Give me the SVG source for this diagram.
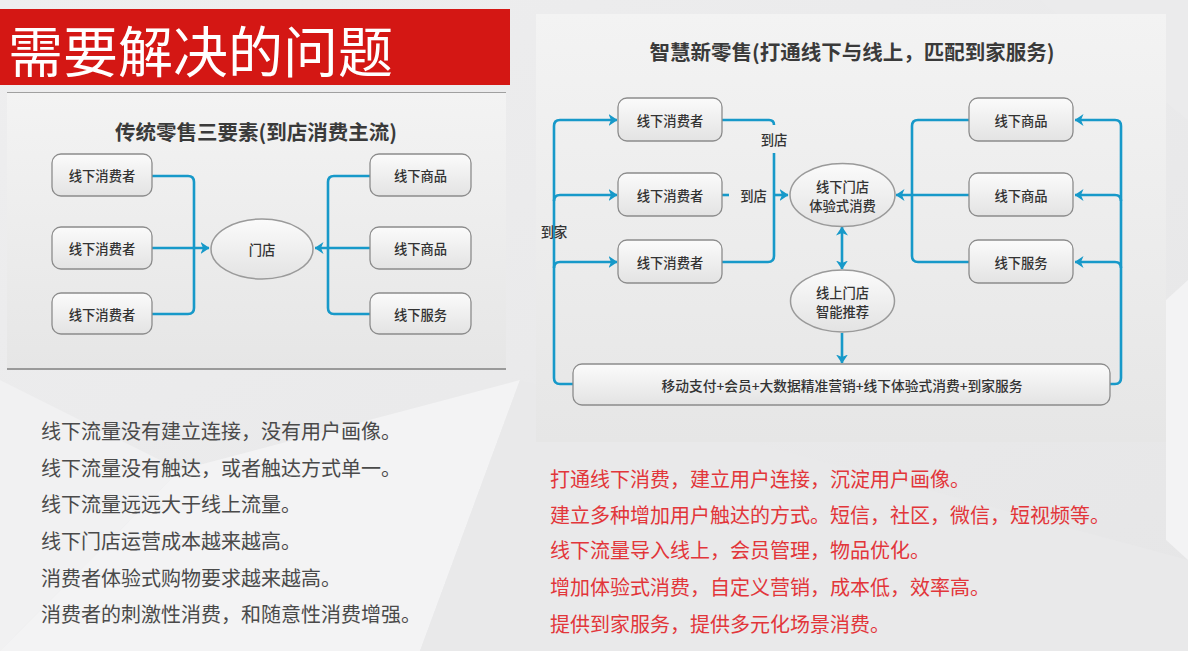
<svg xmlns="http://www.w3.org/2000/svg" width="1188" height="651" viewBox="0 0 1188 651">
<defs>
<linearGradient id="bg" x1="0" y1="0" x2="1" y2="1"><stop offset="0" stop-color="#eeeeef"/><stop offset="1" stop-color="#e6e6e7"/></linearGradient>
<linearGradient id="panel" x1="0" y1="0" x2="0" y2="1"><stop offset="0" stop-color="#f3f3f3"/><stop offset="1" stop-color="#e6e6e6"/></linearGradient>
<linearGradient id="node" x1="0" y1="0" x2="0" y2="1"><stop offset="0" stop-color="#fbfbfb"/><stop offset="1" stop-color="#e3e3e3"/></linearGradient>
<marker id="ah" viewBox="0 0 9 12" refX="8.5" refY="6" markerWidth="9" markerHeight="12" markerUnits="userSpaceOnUse" orient="auto-start-reverse"><path d="M0,0 L9,6 L0,12 L2.5,6 Z" fill="#1799c9"/></marker>
</defs>
<style>
.t{font-family:"Noto Sans CJK SC","Liberation Sans",sans-serif;}
.box{fill:url(#node);stroke:#8c8c8c;stroke-width:1.3;}
.ell{fill:url(#node);stroke:#9a9a9a;stroke-width:1.5;}
.lbl{font-family:"Noto Sans CJK SC","Liberation Sans",sans-serif;font-size:13.3px;fill:#333;text-anchor:middle;dominant-baseline:central;font-weight:500;}
.ln{fill:none;stroke:#1799c9;stroke-width:2.6;}
.ptitle{font-family:"Noto Sans CJK SC","Liberation Sans",sans-serif;font-size:20.5px;font-weight:bold;fill:#3a3a3a;text-anchor:middle;dominant-baseline:central;}
.gray{font-family:"Noto Sans CJK SC","Liberation Sans",sans-serif;font-size:20px;fill:#4a4a4a;dominant-baseline:central;}
.red{font-family:"Noto Sans CJK SC","Liberation Sans",sans-serif;font-size:20px;fill:#e2363a;dominant-baseline:central;}
</style>
<rect width="1188" height="651" fill="url(#bg)"/>
<polygon points="0,380 180,470 0,651" fill="#f1f1f2"/>
<polygon points="180,470 520,380 420,651 0,651" fill="#f3f3f4"/>
<polygon points="520,380 1188,560 1188,651 420,651" fill="#e9e9ea"/>
<polygon points="760,0 1040,0 1188,120 1188,0" fill="#ebebec"/>
<polygon points="1166,300 1188,280 1188,560 1166,540" fill="#f3f3f4"/>

<g id="banner">
<rect x="0" y="9" width="510" height="76" fill="#d41714"/>
<text class="t" x="8" y="47.5" font-size="55" fill="#ffffff" dominant-baseline="central">需要解决的问题</text>
</g>

<g id="left-panel">
<rect x="7" y="92" width="499" height="278" fill="url(#panel)"/>
<line x1="7" y1="92.5" x2="506" y2="92.5" stroke="#a0a0a0" stroke-width="1.2"/>
<line x1="7" y1="369" x2="506" y2="369" stroke="#808080" stroke-width="1.5"/>
<text class="ptitle" x="256" y="131">传统零售三要素(到店消费主流)</text>
</g>

<g id="left-connectors">
<path class="ln" d="M152,176 H188 Q194,176 194,182 V308 Q194,314 188,314 H152"/>
<path class="ln" d="M152,248 H209" marker-end="url(#ah)"/>
<path class="ln" d="M370,176 H334 Q328,176 328,182 V308 Q328,314 334,314 H370"/>
<path class="ln" d="M370,248 H315" marker-end="url(#ah)"/>
</g>

<g id="l-consumer1"><rect class="box" x="52" y="154" width="100" height="42" rx="9"/><text class="lbl" x="102" y="175">线下消费者</text></g>
<g id="l-consumer2"><rect class="box" x="52" y="227" width="100" height="42" rx="9"/><text class="lbl" x="102" y="248">线下消费者</text></g>
<g id="l-consumer3"><rect class="box" x="52" y="293" width="100" height="41" rx="9"/><text class="lbl" x="102" y="314">线下消费者</text></g>
<g id="l-store"><ellipse class="ell" cx="262" cy="249" rx="51" ry="30"/><text class="lbl" x="262" y="249">门店</text></g>
<g id="l-goods1"><rect class="box" x="370" y="154" width="101" height="42" rx="9"/><text class="lbl" x="420.5" y="175">线下商品</text></g>
<g id="l-goods2"><rect class="box" x="370" y="227" width="101" height="42" rx="9"/><text class="lbl" x="420.5" y="248">线下商品</text></g>
<g id="l-service"><rect class="box" x="370" y="293" width="101" height="41" rx="9"/><text class="lbl" x="420.5" y="314">线下服务</text></g>

<g id="right-panel">
<rect x="536" y="14" width="630" height="428" fill="url(#panel)"/>
<text class="ptitle" x="852" y="51">智慧新零售(打通线下与线上，匹配到家服务)</text>
</g>

<g id="right-connectors">
<path class="ln" d="M573,384 H560 Q554,384 554,378 V126 Q554,120 560,120 H617" marker-end="url(#ah)"/>
<path class="ln" d="M554,201 Q554,195 560,195 H617" marker-end="url(#ah)"/>
<path class="ln" d="M554,268 Q554,262 560,262 H617" marker-end="url(#ah)"/>
<path class="ln" d="M722,120 H769 Q774,120 774,125"/>
<path class="ln" d="M774,153 V256 Q774,262 768,262 H722"/>
<path class="ln" d="M774,195 H788" marker-end="url(#ah)"/>
<path class="ln" d="M722,195 H729"/>
<path class="ln" d="M842,227 V269" marker-start="url(#ah)" marker-end="url(#ah)"/>
<path class="ln" d="M842,333 V363" marker-end="url(#ah)"/>
<path class="ln" d="M969,120 H918 Q912,120 912,126 V256 Q912,262 918,262 H969"/>
<path class="ln" d="M969,195 H896" marker-end="url(#ah)"/>
<path class="ln" d="M1110,384 H1115 Q1121,384 1121,378 V126 Q1121,120 1115,120 H1075" marker-end="url(#ah)"/>
<path class="ln" d="M1121,201 Q1121,195 1115,195 H1075" marker-end="url(#ah)"/>
<path class="ln" d="M1121,268 Q1121,262 1115,262 H1075" marker-end="url(#ah)"/>
<text class="lbl" x="774" y="139">到店</text>
<text class="lbl" x="753.5" y="195">到店</text>
<text class="lbl" x="554" y="231">到家</text>
</g>

<g id="r-consumer1"><rect class="box" x="618" y="98" width="104" height="43" rx="9"/><text class="lbl" x="670" y="120">线下消费者</text></g>
<g id="r-consumer2"><rect class="box" x="618" y="173" width="104" height="43" rx="9"/><text class="lbl" x="670" y="195">线下消费者</text></g>
<g id="r-consumer3"><rect class="box" x="618" y="240" width="104" height="43" rx="9"/><text class="lbl" x="670" y="262">线下消费者</text></g>
<g id="r-offline-store"><ellipse class="ell" cx="842.5" cy="195" rx="52.5" ry="31.5"/><text class="lbl" x="842.5" y="186">线下门店</text><text class="lbl" x="842.5" y="205">体验式消费</text></g>
<g id="r-online-store"><ellipse class="ell" cx="842.5" cy="301" rx="52" ry="31"/><text class="lbl" x="842.5" y="292">线上门店</text><text class="lbl" x="842.5" y="311">智能推荐</text></g>
<g id="r-goods1"><rect class="box" x="969" y="98" width="104" height="43" rx="9"/><text class="lbl" x="1021" y="120">线下商品</text></g>
<g id="r-goods2"><rect class="box" x="969" y="173" width="104" height="43" rx="9"/><text class="lbl" x="1021" y="195">线下商品</text></g>
<g id="r-service"><rect class="box" x="969" y="240" width="104" height="43" rx="9"/><text class="lbl" x="1021" y="262">线下服务</text></g>
<g id="r-bottom"><rect class="box" x="573" y="364" width="537" height="41" rx="9"/><text class="lbl" x="842" y="385" textLength="361" lengthAdjust="spacingAndGlyphs">移动支付+会员+大数据精准营销+线下体验式消费+到家服务</text></g>

<g id="left-notes">
<text class="gray" x="41" y="430">线下流量没有建立连接，没有用户画像。</text>
<text class="gray" x="41" y="467">线下流量没有触达，或者触达方式单一。</text>
<text class="gray" x="41" y="503">线下流量远远大于线上流量。</text>
<text class="gray" x="41" y="540">线下门店运营成本越来越高。</text>
<text class="gray" x="41" y="577">消费者体验式购物要求越来越高。</text>
<text class="gray" x="41" y="613">消费者的刺激性消费，和随意性消费增强。</text>
</g>
<g id="right-notes">
<text class="red" x="550" y="478">打通线下消费，建立用户连接，沉淀用户画像。</text>
<text class="red" x="550" y="514">建立多种增加用户触达的方式。短信，社区，微信，短视频等。</text>
<text class="red" x="550" y="549">线下流量导入线上，会员管理，物品优化。</text>
<text class="red" x="550" y="586">增加体验式消费，自定义营销，成本低，效率高。</text>
<text class="red" x="550" y="623">提供到家服务，提供多元化场景消费。</text>
</g>
</svg>
